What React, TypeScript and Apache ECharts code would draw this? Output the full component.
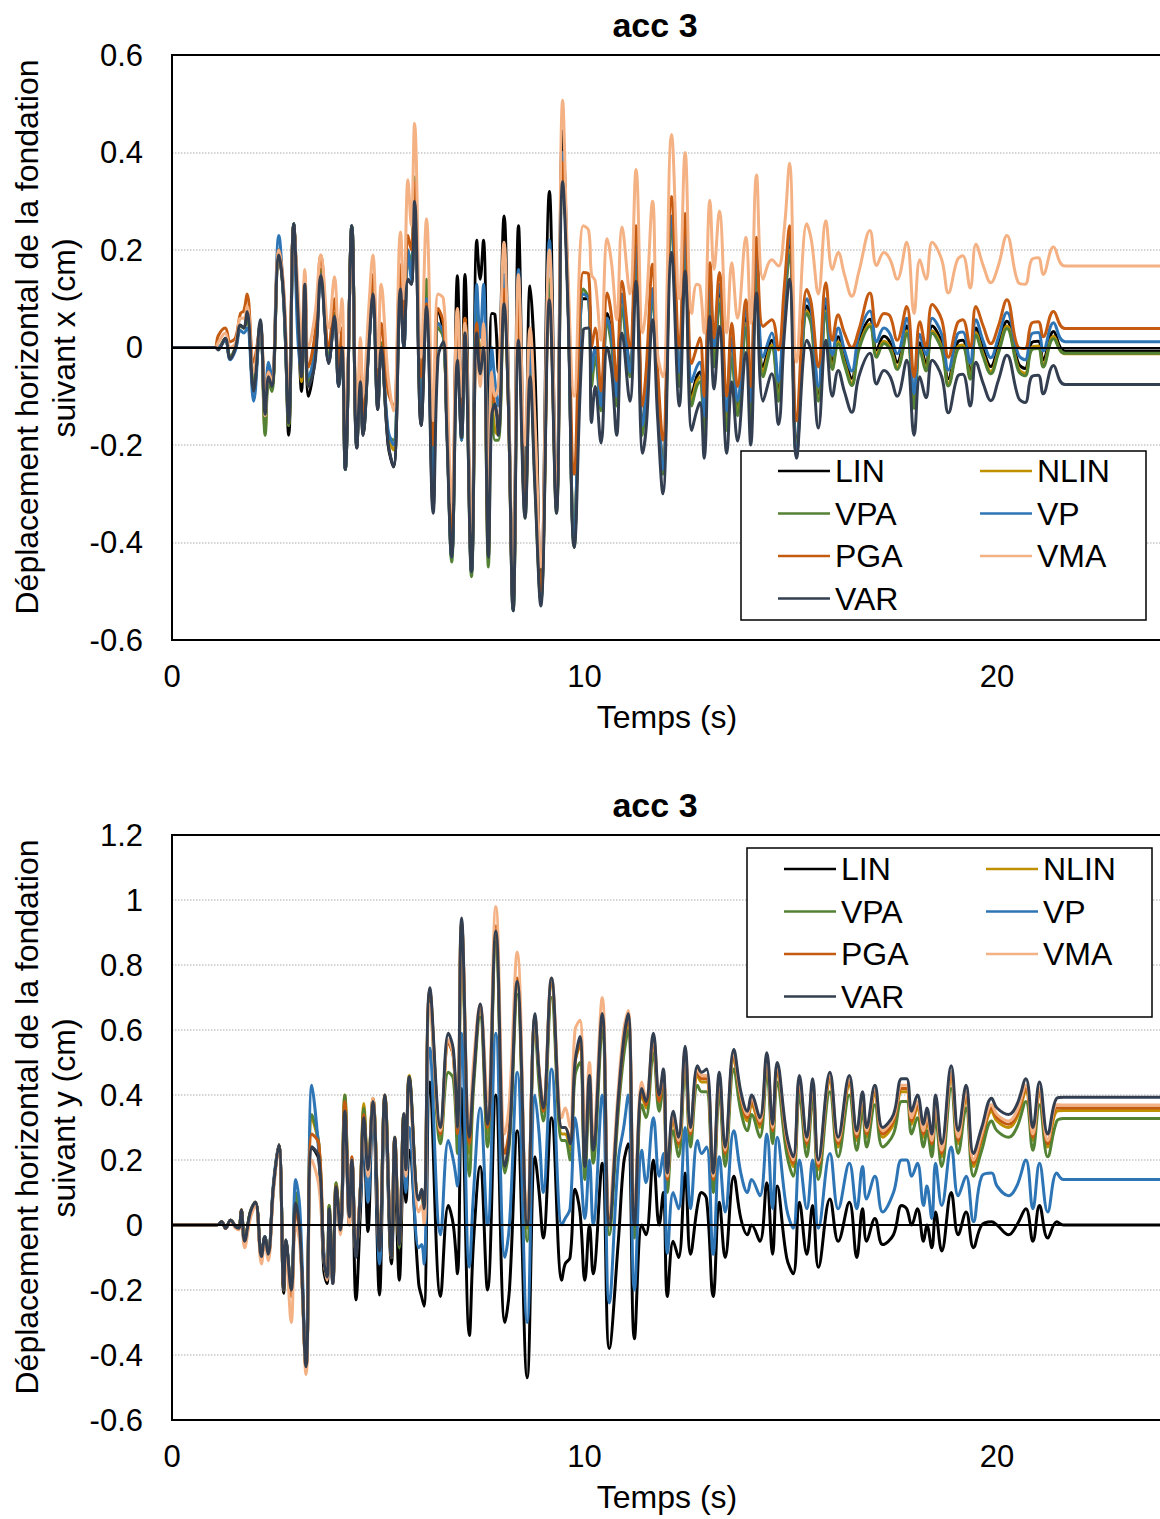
import React, { useEffect, useRef } from 'react';
import * as echarts from 'echarts';

const FONT = '"Liberation Sans", Arial, sans-serif';
const NAMES = ['LIN', 'NLIN', 'VPA', 'VP', 'PGA', 'VMA', 'VAR'];
const COLORS = ['#000000', '#BF9000', '#548235', '#2E75B6', '#C55A11', '#F4B183', '#333F50'];
const X_TICKS = [0, 10, 20];

// ---------- Top chart: suivant x ----------
const timeX = [
  0, 1.0, 1.05, 1.12, 1.29, 1.41, 1.54, 1.66, 1.74, 1.82,
  1.98, 2.14, 2.26, 2.34, 2.42, 2.59, 2.71, 2.83, 2.95, 3.05,
  3.14, 3.22, 3.31, 3.47, 3.61, 3.80, 3.94, 4.04, 4.12, 4.20,
  4.36, 4.48, 4.57, 4.63, 4.77, 4.87, 4.99, 5.07, 5.24, 5.37,
  5.54, 5.62, 5.72, 5.80, 5.88, 6.04, 6.17, 6.33, 6.45, 6.58,
  6.66, 6.78, 6.92, 7.02, 7.10, 7.26, 7.39, 7.47, 7.55, 7.67,
  7.75, 7.83, 7.91, 8.05, 8.15, 8.27, 8.40, 8.56, 8.68, 8.80,
  8.94, 9.15, 9.32, 9.47, 9.60, 9.75, 9.97, 10.10, 10.17, 10.26,
  10.40, 10.55, 10.66, 10.78, 10.91, 11.10, 11.25, 11.41, 11.50, 11.65,
  11.77, 11.90, 12.11, 12.30, 12.44, 12.60, 12.72, 12.80, 12.90, 13.04,
  13.14, 13.27, 13.45, 13.57, 13.71, 13.91, 14.03, 14.17, 14.33, 14.54,
  14.70, 14.84, 14.97, 15.14, 15.39, 15.50, 15.67, 15.85, 16.01, 16.15,
  16.30, 16.48, 16.65, 16.92, 17.08, 17.26, 17.41, 17.58, 17.81, 17.99,
  18.13, 18.28, 18.43, 18.66, 18.82, 19.04, 19.17, 19.35, 19.49, 19.67,
  19.85, 20.03, 20.24, 20.52, 20.68, 20.84, 21.00, 21.12, 21.37, 21.65,
  24,
];
const linX = [
  0, 0, 0, 0, 0.018, -0.02, 0, 0.045, 0.04, 0.07,
  -0.09, 0.05, -0.14, -0.06, -0.08, 0.19, 0.1, -0.18, 0.254, 0.08,
  -0.09, 0.12, -0.1, -0.02, 0.147, -0.03, 0.064, -0.08, 0, -0.25,
  0.25, -0.206, -0.07, -0.18, 0, 0.11, -0.127, 0, -0.2, -0.245,
  0.12, 0, 0.14, 0.13, 0.3, -0.16, 0.08, -0.33, 0.078, 0.03,
  -0.15, -0.43, 0.147, -0.18, 0.15, -0.46, 0.22, 0.14, 0.22, -0.24,
  0.07, 0.067, -0.05, 0.27, -0.05, -0.53, 0.25, -0.33, 0.126, -0.05,
  -0.5, 0.32, -0.33, 0.444, 0.1, -0.4, 0.1, 0.1, -0.06, 0,
  -0.11, 0.07, 0.02, -0.1, 0.1, -0.04, 0.2, -0.16, -0.08, 0.12,
  -0.08, -0.24, 0.26, -0.06, 0.22, -0.1, -0.06, -0.05, -0.16, 0.13,
  -0.02, 0.11, -0.15, 0, -0.12, 0.06, -0.13, 0.18, -0.04, 0.015,
  -0.09, 0.09, 0.21, -0.2, 0.085, 0.06, -0.095, 0.085, -0.03, 0.022,
  -0.02, -0.063, 0.01, 0.058, -0.005, 0.023, 0.01, -0.03, 0.044, -0.11,
  0.01, -0.033, 0.044, 0.01, -0.064, 0.01, 0.015, -0.05, 0.04, -0.005,
  -0.039, 0.002, 0.054, -0.033, -0.043, 0.01, 0.013, -0.025, 0.033, -0.007,
  -0.007,
];
const nlinX = [
  0, 0, 0, 0, 0.018, -0.02, 0, 0.045, 0.04, 0.07,
  -0.09, 0.05, -0.17, -0.06, -0.08, 0.2, 0.1, -0.16, 0.254, 0.07,
  -0.07, 0.12, -0.08, 0, 0.16, -0.02, 0.07, -0.07, 0, -0.25,
  0.25, -0.2, -0.06, -0.17, 0.01, 0.12, -0.12, 0.01, -0.18, -0.21,
  0.13, 0.02, 0.18, 0.15, 0.33, -0.14, 0.12, -0.25, 0.05, 0.02,
  -0.15, -0.43, 0.05, -0.19, 0.06, -0.46, 0.1, -0.04, 0.05, -0.43,
  -0.1, -0.17, -0.18, 0.12, -0.1, -0.54, 0.1, -0.34, -0.03, -0.27,
  -0.52, 0.14, -0.33, 0.38, 0.1, -0.4, 0.11, 0.1, -0.07, -0.01,
  -0.12, 0.06, 0.01, -0.11, 0.09, -0.05, 0.19, -0.17, -0.09, 0.11,
  -0.09, -0.25, 0.25, -0.07, 0.21, -0.11, -0.07, -0.06, -0.17, 0.12,
  -0.03, 0.1, -0.16, -0.01, -0.13, 0.05, -0.14, 0.17, -0.05, 0.005,
  -0.1, 0.08, 0.2, -0.21, 0.075, 0.05, -0.105, 0.075, -0.04, 0.012,
  -0.03, -0.073, 0, 0.048, -0.015, 0.013, 0, -0.04, 0.034, -0.12,
  0, -0.043, 0.034, 0, -0.074, 0, 0.005, -0.06, 0.03, -0.015,
  -0.049, -0.008, 0.044, -0.043, -0.053, 0, 0.003, -0.035, 0.023, -0.013,
  -0.013,
];
const vpaX = [
  0, 0, 0, 0, 0.018, -0.02, 0, 0.045, 0.04, 0.06,
  -0.08, 0.04, -0.18, -0.07, -0.09, 0.2, 0.09, -0.16, 0.254, 0.06,
  -0.06, 0.11, -0.07, 0, 0.16, -0.02, 0.07, -0.07, 0, -0.25,
  0.25, -0.2, -0.06, -0.17, 0.01, 0.12, -0.12, 0.01, -0.18, -0.19,
  0.14, 0.03, 0.2, 0.17, 0.35, -0.13, 0.14, -0.22, 0.04, 0.02,
  -0.15, -0.44, 0.04, -0.19, 0.05, -0.47, 0.09, -0.05, 0.04, -0.45,
  -0.11, -0.19, -0.19, 0.11, -0.1, -0.54, 0.09, -0.35, -0.04, -0.28,
  -0.52, 0.13, -0.34, 0.37, 0.1, -0.41, 0.12, 0.1, -0.08, -0.02,
  -0.13, 0.05, 0, -0.12, 0.08, -0.06, 0.18, -0.18, -0.1, 0.1,
  -0.1, -0.26, 0.25, -0.08, 0.2, -0.12, -0.08, -0.07, -0.18, 0.11,
  -0.04, 0.09, -0.17, -0.02, -0.14, 0.04, -0.15, 0.16, -0.06, 0,
  -0.11, 0.07, 0.19, -0.22, 0.07, 0.045, -0.11, 0.07, -0.045, 0.007,
  -0.035, -0.078, -0.005, 0.043, -0.02, 0.008, -0.005, -0.045, 0.029, -0.125,
  -0.005, -0.048, 0.029, -0.005, -0.079, -0.005, 0, -0.065, 0.025, -0.02,
  -0.054, -0.013, 0.039, -0.048, -0.058, -0.005, -0.002, -0.04, 0.018, -0.012,
  -0.012,
];
const vpX = [
  0, 0, 0, 0, 0.015, -0.025, -0.005, 0.035, 0.03, 0.04,
  -0.11, 0.05, -0.12, -0.03, -0.06, 0.23, 0.09, -0.14, 0.254, 0.02,
  -0.05, 0.1, -0.06, -0.01, 0.15, -0.03, 0.06, -0.08, 0, -0.25,
  0.25, -0.2, -0.06, -0.17, 0, 0.11, -0.12, 0, -0.17, -0.2,
  0.13, 0, 0.2, 0.14, 0.3, -0.12, 0.1, -0.3, 0.05, 0.03,
  -0.15, -0.43, 0, -0.19, 0.04, -0.46, 0.13, 0.02, 0.13, -0.33,
  0, -0.07, -0.12, 0.15, -0.08, -0.54, 0.16, -0.34, 0, -0.25,
  -0.52, 0.22, -0.33, 0.4, 0.1, -0.4, 0.11, 0.1, -0.05, 0,
  -0.12, 0.06, 0.02, -0.1, 0.11, -0.05, 0.21, -0.16, -0.09, 0.12,
  -0.09, -0.25, 0.27, -0.05, 0.24, -0.07, -0.04, -0.03, -0.14, 0.15,
  0, 0.13, -0.13, 0.02, -0.11, 0.08, -0.11, 0.2, -0.02, 0.03,
  -0.07, 0.1, 0.23, -0.22, 0.1, 0.075, -0.08, 0.1, -0.015, 0.04,
  -0.005, -0.048, 0.025, 0.075, 0.012, 0.04, 0.027, -0.013, 0.06, -0.095,
  0.027, -0.015, 0.06, 0.027, -0.046, 0.027, 0.032, -0.032, 0.057, 0.012,
  -0.021, 0.02, 0.072, -0.015, -0.025, 0.028, 0.031, -0.007, 0.051, 0.012,
  0.012,
];
const pgaX = [
  0, 0, 0, 0.024, 0.04, 0.012, 0.02, 0.07, 0.075, 0.11,
  -0.03, 0.04, -0.12, -0.05, -0.07, 0.2, 0.11, -0.12, 0.25, 0.1,
  -0.03, 0.14, -0.04, 0.03, 0.19, 0, 0.1, -0.04, 0.04, -0.23,
  0.24, -0.19, -0.03, -0.15, 0.04, 0.15, -0.09, 0.05, -0.09, -0.12,
  0.17, 0.06, 0.23, 0.2, 0.34, -0.06, 0.09, -0.2, 0.08, 0.05,
  -0.12, -0.4, 0.08, -0.16, 0.06, -0.44, 0.05, -0.04, 0.04, -0.4,
  -0.08, -0.12, -0.15, 0.12, -0.1, -0.52, 0.1, -0.33, -0.06, -0.24,
  -0.5, 0.1, -0.32, 0.38, 0.12, -0.26, 0.154, 0.15, 0, 0.04,
  -0.089, 0.112, 0.06, -0.068, 0.136, 0, 0.25, -0.12, -0.04, 0.171,
  -0.04, -0.19, 0.31, 0, 0.275, -0.033, 0, 0.02, -0.1, 0.174,
  0.02, 0.154, -0.1, 0.05, -0.08, 0.098, -0.08, 0.226, 0.043, 0.057,
  -0.005, 0.12, 0.25, -0.15, 0.119, 0.09, -0.04, 0.133, 0.015, 0.067,
  0.03, 0, 0.036, 0.112, 0.043, 0.07, 0.064, 0.015, 0.084, -0.06,
  0.053, 0, 0.088, 0.057, -0.02, 0.05, 0.057, 0, 0.084, 0.043,
  0.008, 0.043, 0.098, 0, -0.002, 0.05, 0.053, 0.022, 0.074, 0.039,
  0.039,
];
const vmaX = [
  0, 0, 0, 0.01, 0.03, 0, 0.01, 0.06, 0.06, 0.085,
  -0.05, 0.05, -0.14, -0.05, -0.07, 0.2, 0.12, -0.11, 0.24, 0.13,
  0, 0.16, 0, 0.07, 0.19, 0.04, 0.145, 0.03, 0.1, -0.2,
  0.2, -0.15, 0.02, -0.1, 0.08, 0.19, -0.04, 0.13, -0.06, -0.13,
  0.237, 0.1, 0.344, 0.25, 0.46, -0.02, 0.264, -0.15, 0.11, 0.1,
  -0.05, -0.32, 0.08, -0.1, 0.05, -0.38, 0, -0.08, 0.05, -0.35,
  -0.05, -0.1, -0.08, 0.216, -0.05, -0.5, 0.15, -0.2, 0.04, -0.15,
  -0.45, 0.2, -0.3, 0.507, 0.15, -0.1, 0.25, 0.24, 0.15, 0.136,
  0.015, 0.223, 0.17, 0.057, 0.247, 0.11, 0.365, 0.03, 0.09, 0.3,
  -0.01, -0.06, 0.437, 0.1, 0.4, 0.07, 0.13, 0.126, 0.03, 0.302,
  0.16, 0.28, 0.03, 0.174, 0.06, 0.226, 0.05, 0.354, 0.14, 0.18,
  0.167, 0.24, 0.378, -0.03, 0.254, 0.22, 0.11, 0.26, 0.16, 0.195,
  0.15, 0.105, 0.155, 0.24, 0.168, 0.195, 0.18, 0.14, 0.216, 0.07,
  0.18, 0.14, 0.216, 0.18, 0.112, 0.18, 0.188, 0.122, 0.212, 0.167,
  0.133, 0.167, 0.23, 0.133, 0.13, 0.18, 0.184, 0.15, 0.206, 0.167,
  0.167,
];
const varX = [
  0, 0, 0, -0.005, 0.019, -0.023, 0, 0.046, 0.04, 0.074,
  -0.089, 0.057, -0.137, -0.06, -0.08, 0.19, 0.1, -0.155, 0.254, 0.08,
  -0.06, 0.13, -0.08, -0.03, 0.147, -0.033, 0.064, -0.08, 0, -0.25,
  0.25, -0.206, -0.07, -0.18, 0, 0.11, -0.127, 0, -0.196, -0.244,
  0.12, 0, 0.14, 0.13, 0.3, -0.16, 0.084, -0.34, -0.02, 0.012,
  -0.165, -0.43, -0.026, -0.185, 0.03, -0.46, 0.03, -0.054, 0, -0.43,
  -0.14, -0.116, -0.18, 0.09, -0.1, -0.54, 0.015, -0.35, -0.06, -0.29,
  -0.53, 0.098, -0.34, 0.34, 0.08, -0.41, 0.036, 0.04, -0.154, -0.08,
  -0.196, 0, -0.05, -0.18, 0.03, -0.11, 0.136, -0.217, -0.16, 0.057,
  -0.14, -0.3, 0.195, -0.12, 0.157, -0.17, -0.13, -0.113, -0.227, 0.064,
  -0.085, 0.043, -0.217, -0.07, -0.192, -0.01, -0.2, 0.112, -0.11, -0.054,
  -0.158, 0.022, 0.14, -0.227, 0.015, -0.01, -0.165, 0.015, -0.1, -0.047,
  -0.09, -0.133, -0.06, -0.012, -0.075, -0.047, -0.06, -0.1, -0.026, -0.18,
  -0.06, -0.103, -0.026, -0.06, -0.134, -0.06, -0.055, -0.12, -0.03, -0.075,
  -0.109, -0.068, -0.016, -0.103, -0.113, -0.06, -0.057, -0.095, -0.037, -0.076,
  -0.076,
];

// ---------- Bottom chart: suivant y ----------
const timeY = [
  0, 1.09, 1.2, 1.3, 1.42, 1.54, 1.62, 1.68, 1.76, 1.9,
  2.02, 2.17, 2.25, 2.33, 2.46, 2.59, 2.71, 2.76, 2.89, 3.0,
  3.1, 3.25, 3.39, 3.56, 3.68, 3.76, 3.81, 3.90, 3.98, 4.08,
  4.19, 4.30, 4.36, 4.46, 4.57, 4.65, 4.75, 4.87, 5.03, 5.16,
  5.32, 5.40, 5.51, 5.62, 5.67, 5.75, 5.98, 6.05, 6.11, 6.25,
  6.51, 6.70, 6.82, 6.92, 7.02, 7.21, 7.31, 7.47, 7.65, 7.85,
  8.07, 8.18, 8.37, 8.61, 8.80, 8.90, 9.00, 9.20, 9.45, 9.53,
  9.65, 9.77, 9.89, 10.01, 10.12, 10.21, 10.43, 10.60, 10.82, 10.95,
  11.06, 11.21, 11.39, 11.49, 11.67, 11.81, 11.91, 12.01, 12.15, 12.28,
  12.44, 12.57, 12.74, 12.84, 12.96, 13.12, 13.27, 13.41, 13.62, 13.79,
  13.95, 14.05, 14.25, 14.42, 14.56, 14.67, 14.90, 15.06, 15.21, 15.39,
  15.53, 15.67, 15.95, 16.15, 16.42, 16.60, 16.74, 16.84, 17.04, 17.23,
  17.49, 17.69, 17.81, 17.93, 18.07, 18.22, 18.30, 18.42, 18.51, 18.66,
  18.89, 19.06, 19.25, 19.43, 19.63, 19.87, 20.00, 20.28, 20.48, 20.70,
  20.87, 21.03, 21.23, 21.45, 21.61, 24,
];
const linY = [
  0, 0, 0.01, -0.01, 0.015, -0.005, -0.01, 0.046, -0.05, 0.04,
  0.07, -0.097, -0.036, -0.09, 0.118, 0.246, -0.21, -0.05, -0.2, 0.067,
  -0.02, -0.44, 0.24, 0.2, -0.14, -0.18, 0.02, -0.18, 0.1, -0.02,
  0.33, 0, 0.2, -0.23, 0.05, 0.27, -0.02, 0.38, -0.215, 0.37,
  -0.12, 0.18, -0.17, 0.2, 0.07, 0.23, -0.18, -0.22, -0.25, 0.44,
  -0.22, 0.06, 0, -0.15, 0.42, -0.34, -0.05, 0.18, -0.2, 0.4,
  -0.3, -0.2, 0.29, -0.47, 0.21, 0.1, -0.04, 0.33, -0.17, -0.12,
  -0.1, 0.11, 0.04, -0.17, 0, -0.15, 0.19, -0.38, -0.05, 0.19,
  0.25, -0.35, 0, -0.03, 0.2, 0, 0.1, -0.22, -0.05, -0.1,
  0.16, -0.09, 0.06, 0.1, 0.08, -0.22, 0.07, -0.1, 0.15, 0.02,
  -0.03, 0, -0.05, 0.13, -0.09, 0.12, -0.1, -0.15, 0.07, -0.09,
  0.06, -0.13, 0.08, -0.05, 0.07, -0.1, 0.05, -0.05, 0.02, -0.06,
  -0.03, 0.06, 0.05, 0, 0.05, -0.05, 0, -0.07, 0.04, -0.08,
  0.1, -0.03, 0.04, -0.07, 0, 0.01, 0, -0.03, 0, 0.05,
  -0.05, 0.06, -0.04, 0.01, 0, 0,
];
const nlinY = [
  0, 0, 0.01, -0.01, 0.015, -0.005, -0.01, 0.046, -0.05, 0.04,
  0.07, -0.097, -0.036, -0.09, 0.12, 0.246, -0.2, -0.046, -0.21, 0.1,
  -0.02, -0.436, 0.33, 0.24, -0.1, -0.16, 0.06, -0.17, 0.13, -0.01,
  0.4, 0.03, 0.2, -0.08, 0.12, 0.374, 0.17, 0.39, -0.06, 0.4,
  -0.1, 0.27, -0.06, 0.34, 0.17, 0.46, 0.08, 0.1, 0.04, 0.72,
  0.27, 0.56, 0.52, 0.28, 0.93, 0.22, 0.45, 0.67, 0.28, 0.89,
  0.18, 0.27, 0.74, -0.01, 0.64, 0.46, 0.35, 0.74, 0.28, 0.28,
  0.23, 0.5, 0.55, 0.17, 0.45, 0.22, 0.64, 0, 0.38, 0.55,
  0.63, -0.01, 0.4, 0.36, 0.57, 0.38, 0.46, 0.13, 0.32, 0.24,
  0.52, 0.27, 0.46, 0.44, 0.44, 0.13, 0.44, 0.21, 0.51, 0.38,
  0.32, 0.37, 0.3, 0.5, 0.28, 0.47, 0.25, 0.18, 0.43, 0.24,
  0.42, 0.17, 0.44, 0.24, 0.43, 0.26, 0.38, 0.27, 0.4, 0.27,
  0.31, 0.41, 0.41, 0.31, 0.36, 0.27, 0.32, 0.24, 0.36, 0.21,
  0.45, 0.25, 0.39, 0.18, 0.26, 0.35, 0.32, 0.3, 0.33, 0.41,
  0.26, 0.4, 0.24, 0.35, 0.352, 0.352,
];
const vpaY = [
  0, 0, 0.01, -0.01, 0.015, -0.005, -0.01, 0.046, -0.05, 0.04,
  0.07, -0.097, -0.036, -0.09, 0.12, 0.246, -0.2, -0.046, -0.21, 0.1,
  -0.02, -0.436, 0.34, 0.25, -0.1, -0.16, 0.06, -0.17, 0.13, -0.01,
  0.4, 0.03, 0.2, -0.08, 0.12, 0.36, 0.17, 0.39, -0.06, 0.39,
  -0.1, 0.26, -0.07, 0.34, 0.16, 0.45, 0.08, 0.09, 0.03, 0.7,
  0.25, 0.47, 0.45, 0.22, 0.9, 0.15, 0.42, 0.64, 0.24, 0.87,
  0.16, 0.25, 0.71, -0.05, 0.61, 0.43, 0.32, 0.7, 0.26, 0.26,
  0.2, 0.46, 0.5, 0.14, 0.42, 0.19, 0.6, -0.03, 0.35, 0.52,
  0.6, -0.04, 0.37, 0.33, 0.53, 0.35, 0.43, 0.1, 0.29, 0.21,
  0.49, 0.24, 0.43, 0.41, 0.41, 0.1, 0.41, 0.18, 0.48, 0.35,
  0.29, 0.34, 0.27, 0.47, 0.25, 0.44, 0.22, 0.15, 0.4, 0.21,
  0.39, 0.14, 0.41, 0.21, 0.4, 0.23, 0.35, 0.24, 0.37, 0.24,
  0.28, 0.38, 0.38, 0.28, 0.33, 0.24, 0.29, 0.21, 0.33, 0.18,
  0.42, 0.22, 0.36, 0.15, 0.23, 0.32, 0.29, 0.27, 0.3, 0.38,
  0.23, 0.37, 0.21, 0.32, 0.328, 0.328,
];
const vpY = [
  0, 0, 0.01, -0.01, 0.015, -0.005, -0.01, 0.04, -0.06, 0.035,
  0.07, -0.097, -0.036, -0.09, 0.13, 0.246, -0.19, -0.046, -0.2, 0.14,
  0.05, -0.43, 0.43, 0.22, -0.08, -0.16, 0.03, -0.17, 0.09, -0.015,
  0.33, 0.04, 0.2, -0.05, 0.08, 0.3, 0.07, 0.36, -0.12, 0.37,
  -0.08, 0.2, -0.03, 0.25, 0.1, 0.3, -0.07, -0.06, -0.12, 0.545,
  -0.03, 0.26, 0.2, 0.12, 0.59, -0.13, 0.1, 0.36, 0, 0.59,
  -0.1, 0, 0.47, -0.3, 0.4, 0.28, 0.1, 0.48, 0, 0.02,
  0.05, 0.33, 0.2, 0.02, 0.2, 0, 0.4, -0.24, 0.2, 0.3,
  0.4, -0.2, 0.23, 0.13, 0.33, 0.15, 0.22, -0.087, 0.1, 0.05,
  0.3, 0.05, 0.26, 0.22, 0.24, -0.09, 0.21, 0.04, 0.29, 0.16,
  0.1, 0.14, 0.09, 0.28, 0.05, 0.27, 0.05, -0.01, 0.2, 0.05,
  0.2, -0.01, 0.22, 0.05, 0.19, 0.05, 0.18, 0.08, 0.15, 0.04,
  0.1, 0.2, 0.2, 0.15, 0.19, 0.06, 0.12, 0.02, 0.19, 0.06,
  0.24, 0.09, 0.15, 0.01, 0.15, 0.16, 0.12, 0.09, 0.12, 0.2,
  0.05, 0.19, 0.04, 0.16, 0.14, 0.14,
];
const pgaY = [
  0, 0, 0.01, -0.01, 0.015, -0.005, -0.01, 0.046, -0.055, 0.035,
  0.07, -0.1, -0.04, -0.095, 0.118, 0.246, -0.2, -0.05, -0.22, 0.04,
  -0.03, -0.44, 0.28, 0.25, -0.1, -0.16, 0.04, -0.17, 0.12, -0.01,
  0.38, 0.03, 0.21, -0.08, 0.12, 0.34, 0.17, 0.39, -0.07, 0.4,
  -0.1, 0.27, -0.06, 0.34, 0.17, 0.45, 0.08, 0.1, 0.04, 0.72,
  0.28, 0.56, 0.52, 0.28, 0.93, 0.25, 0.46, 0.67, 0.3, 0.92,
  0.22, 0.3, 0.76, 0, 0.64, 0.47, 0.35, 0.75, 0.3, 0.3,
  0.26, 0.5, 0.56, 0.2, 0.46, 0.24, 0.65, 0.02, 0.38, 0.56,
  0.64, 0.02, 0.41, 0.37, 0.57, 0.38, 0.46, 0.14, 0.33, 0.25,
  0.53, 0.28, 0.47, 0.45, 0.45, 0.14, 0.45, 0.22, 0.52, 0.39,
  0.33, 0.38, 0.31, 0.51, 0.29, 0.48, 0.26, 0.19, 0.44, 0.25,
  0.43, 0.18, 0.45, 0.25, 0.44, 0.27, 0.39, 0.28, 0.41, 0.28,
  0.32, 0.42, 0.42, 0.32, 0.37, 0.28, 0.33, 0.25, 0.37, 0.22,
  0.46, 0.26, 0.4, 0.19, 0.27, 0.36, 0.33, 0.31, 0.34, 0.42,
  0.27, 0.41, 0.25, 0.36, 0.36, 0.36,
];
const vmaY = [
  0, 0, 0.005, -0.01, 0.01, -0.01, -0.015, 0.04, -0.07, 0.02,
  0.06, -0.12, -0.05, -0.11, 0.1, 0.24, -0.18, -0.1, -0.3, 0,
  -0.06, -0.46, 0.2, 0.12, -0.1, -0.17, 0, -0.18, 0.1, -0.03,
  0.33, 0, 0.2, -0.08, 0.12, 0.3, 0.15, 0.39, -0.06, 0.38,
  -0.06, 0.25, -0.03, 0.3, 0.15, 0.43, 0.04, 0.06, 0, 0.68,
  0.29, 0.57, 0.52, 0.3, 0.93, 0.3, 0.5, 0.68, 0.38, 0.98,
  0.28, 0.38, 0.84, 0.02, 0.64, 0.48, 0.38, 0.76, 0.33, 0.36,
  0.3, 0.6, 0.63, 0.26, 0.5, 0.28, 0.7, 0.05, 0.42, 0.6,
  0.66, 0.05, 0.44, 0.39, 0.58, 0.4, 0.47, 0.15, 0.34, 0.26,
  0.54, 0.29, 0.48, 0.46, 0.46, 0.15, 0.46, 0.23, 0.53, 0.4,
  0.34, 0.39, 0.32, 0.52, 0.3, 0.49, 0.27, 0.2, 0.45, 0.26,
  0.44, 0.19, 0.46, 0.26, 0.45, 0.28, 0.4, 0.29, 0.42, 0.29,
  0.33, 0.43, 0.43, 0.33, 0.38, 0.29, 0.34, 0.26, 0.38, 0.23,
  0.47, 0.27, 0.41, 0.2, 0.28, 0.37, 0.34, 0.32, 0.35, 0.43,
  0.28, 0.42, 0.26, 0.37, 0.369, 0.369,
];
const varY = [
  0, 0, 0.01, -0.01, 0.015, -0.005, -0.01, 0.046, -0.05, 0.04,
  0.07, -0.097, -0.036, -0.09, 0.118, 0.246, -0.2, -0.046, -0.2, 0.067,
  -0.02, -0.436, 0.24, 0.21, -0.108, -0.16, 0.05, -0.18, 0.118, -0.015,
  0.35, 0.025, 0.2, -0.1, 0.118, 0.33, 0.17, 0.38, -0.08, 0.4,
  -0.1, 0.27, -0.06, 0.343, 0.17, 0.456, 0.077, 0.11, 0.05, 0.73,
  0.3, 0.59, 0.54, 0.3, 0.945, 0.27, 0.45, 0.68, 0.31, 0.905,
  0.18, 0.27, 0.75, 0, 0.65, 0.47, 0.36, 0.76, 0.3, 0.3,
  0.25, 0.5, 0.58, 0.18, 0.46, 0.23, 0.65, 0, 0.39, 0.57,
  0.65, 0, 0.42, 0.38, 0.59, 0.4, 0.48, 0.16, 0.35, 0.27,
  0.55, 0.3, 0.49, 0.47, 0.48, 0.16, 0.47, 0.24, 0.54, 0.41,
  0.35, 0.4, 0.33, 0.53, 0.31, 0.5, 0.28, 0.21, 0.46, 0.27,
  0.45, 0.2, 0.47, 0.27, 0.46, 0.29, 0.41, 0.3, 0.43, 0.3,
  0.34, 0.45, 0.45, 0.35, 0.4, 0.31, 0.36, 0.28, 0.4, 0.25,
  0.49, 0.29, 0.43, 0.22, 0.3, 0.39, 0.36, 0.34, 0.37, 0.45,
  0.3, 0.44, 0.28, 0.39, 0.393, 0.393,
];

const TOP_VALUES = [linX, nlinX, vpaX, vpX, pgaX, vmaX, varX];
const BOTTOM_VALUES = [linY, nlinY, vpaY, vpY, pgaY, vmaY, varY];

function pairs(t: number[], v: number[]) {
  const n = Math.min(t.length, v.length);
  const out: number[][] = [];
  for (let i = 0; i < n; i++) out.push([t[i], v[i]]);
  return out;
}

function buildOption() {
  const PLOT_W = 990;
  const grids = [
    { left: 172, top: 55, width: PLOT_W, height: 585 },
    { left: 172, top: 835, width: PLOT_W, height: 585 },
  ];
  const xAxis = grids.map((_, gi) => ({
    gridIndex: gi,
    type: 'value',
    min: 0,
    max: 24,
    interval: 10,
    axisLine: { show: false },
    axisTick: { show: false },
    splitLine: { show: false },
    axisLabel: {
      fontSize: 31,
      color: '#000',
      fontFamily: FONT,
      margin: 21,
      showMaxLabel: false,
      formatter: (v: number) => (X_TICKS.indexOf(v) >= 0 ? String(v) : ''),
    },
    name: 'Temps (s)',
    nameLocation: 'middle',
    nameGap: 61,
    nameTextStyle: { fontSize: 32, color: '#000', fontFamily: FONT },
  }));
  const yAxis = [
    { min: -0.6, max: 0.6 },
    { min: -0.6, max: 1.2 },
  ].map((r, gi) => ({
    gridIndex: gi,
    type: 'value',
    min: r.min,
    max: r.max,
    interval: 0.2,
    axisLine: { show: false },
    axisTick: { show: false },
    splitLine: { show: true, lineStyle: { color: '#c6c6c6', type: 'dotted', width: 1.5 } },
    axisLabel: { fontSize: 31, color: '#000', fontFamily: FONT, margin: 29 },
  }));

  const series: any[] = [];
  [TOP_VALUES, BOTTOM_VALUES].forEach((vals, gi) => {
    NAMES.forEach((name, i) => {
      const t = gi === 0 ? timeX : timeY;
      series.push({
        name,
        type: 'line',
        xAxisIndex: gi,
        yAxisIndex: gi,
        data: pairs(t, vals[i]),
        symbol: 'none',
        smooth: 0.4,
        lineStyle: { color: COLORS[i], width: 3 },
        itemStyle: { color: COLORS[i] },
        emphasis: { disabled: true },
        markLine:
          i === 0
            ? {
                silent: true,
                symbol: 'none',
                label: { show: false },
                lineStyle: { color: '#000', width: 2, type: 'solid' },
                data: [{ yAxis: 0 }],
              }
            : undefined,
      });
    });
  });

  const legendText = { fontSize: 32, color: '#000', fontFamily: FONT, lineHeight: 30 };
  const legendBase = {
    orient: 'vertical',
    icon: 'rect',
    itemWidth: 52,
    itemHeight: 2.5,
    itemGap: 10.5,
    padding: 0,
    selectedMode: false,
    textStyle: legendText,
  };
  const legend = [
    { ...legendBase, left: 778, top: 455, data: ['LIN', 'VPA', 'PGA', 'VAR'] },
    { ...legendBase, left: 980, top: 455, data: ['NLIN', 'VP', 'VMA'] },
    { ...legendBase, left: 784, top: 853, data: ['LIN', 'VPA', 'PGA', 'VAR'] },
    { ...legendBase, left: 986, top: 853, data: ['NLIN', 'VP', 'VMA'] },
  ];

  const yLabel = (text: string, x: number, y: number) => ({
    type: 'text',
    x,
    y,
    rotation: Math.PI / 2,
    z: 5,
    style: {
      text,
      fill: '#000',
      font: `32px ${FONT}`,
      textAlign: 'center',
      textVerticalAlign: 'middle',
      align: 'center',
      verticalAlign: 'middle',
    },
  });

  const graphic = [
    { type: 'rect', z: 1, shape: { x: 741, y: 451, width: 405, height: 169 }, style: { fill: '#fff', stroke: '#000', lineWidth: 1.5 } },
    { type: 'rect', z: 1, shape: { x: 747, y: 848, width: 405, height: 169 }, style: { fill: '#fff', stroke: '#000', lineWidth: 1.5 } },
    { type: 'rect', z: 10, silent: true, shape: { x: 172, y: 55, width: PLOT_W, height: 585 }, style: { fill: 'none', stroke: '#000', lineWidth: 2 } },
    { type: 'rect', z: 10, silent: true, shape: { x: 172, y: 835, width: PLOT_W, height: 585 }, style: { fill: 'none', stroke: '#000', lineWidth: 2 } },
    yLabel('Déplacement horizontal de la fondation', 27, 337),
    yLabel('suivant x (cm)', 64, 338),
    yLabel('Déplacement horizontal de la fondation', 27, 1117),
    yLabel('suivant y (cm)', 64, 1118),
  ];

  const titleStyle = { fontSize: 34, fontWeight: 'bold', color: '#000', fontFamily: FONT };
  return {
    animation: false,
    backgroundColor: '#fff',
    textStyle: { fontFamily: FONT },
    title: [
      { text: 'acc 3', left: 650, top: 3, textAlign: 'center', textStyle: titleStyle },
      { text: 'acc 3', left: 650, top: 783, textAlign: 'center', textStyle: titleStyle },
    ],
    grid: grids.map((g) => ({ ...g, show: false, containLabel: false })),
    xAxis,
    yAxis,
    legend,
    graphic,
    series,
  };
}

export default function App() {
  const ref = useRef<HTMLDivElement>(null);
  useEffect(() => {
    if (!ref.current) return;
    const chart = echarts.init(ref.current, null, { renderer: 'svg' });
    chart.setOption(buildOption() as any);
    return () => chart.dispose();
  }, []);
  return (
    <div style={{ position: 'absolute', left: 0, top: 0, width: 1160, height: 1519, overflow: 'hidden', background: '#fff' }}>
      <div ref={ref} style={{ width: 1180, height: 1519 }} />
    </div>
  );
}
